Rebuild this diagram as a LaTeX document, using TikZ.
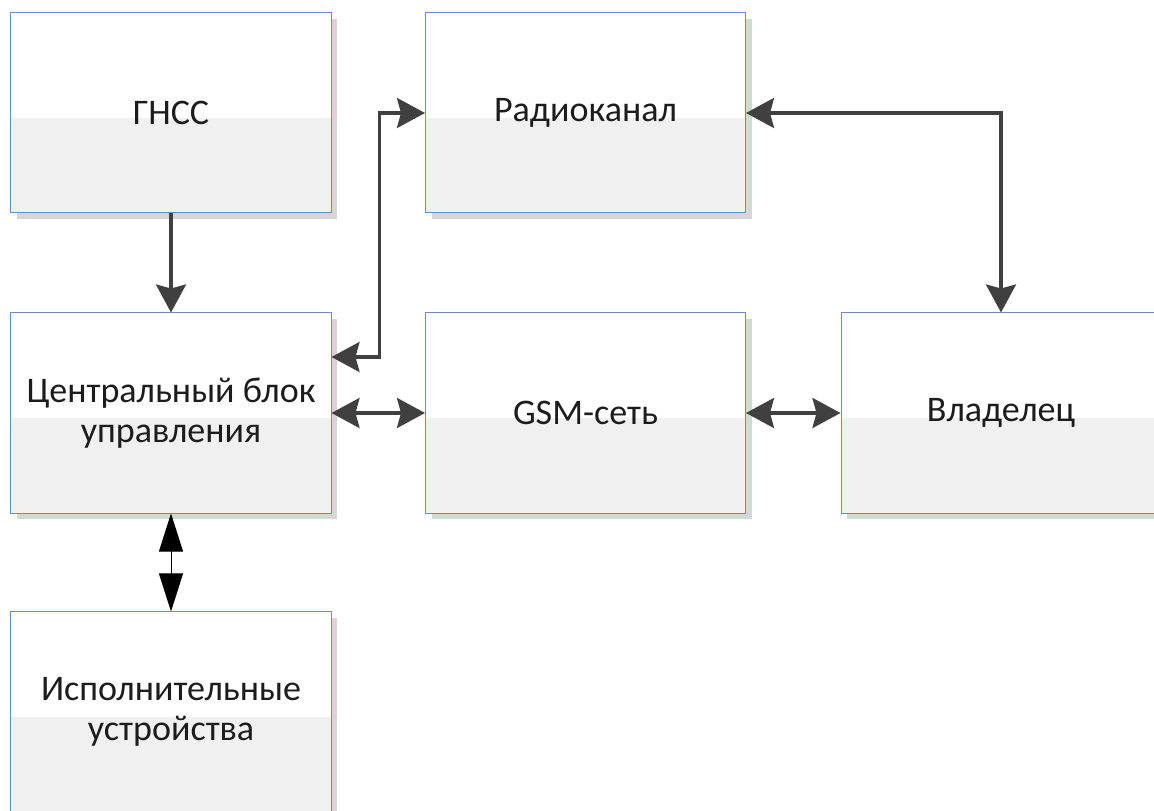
\documentclass[tikz,border=0pt]{standalone}
\usepackage{fontspec}
\setmainfont{Carlito}
\usetikzlibrary{arrows.meta,shadows}

\definecolor{boxblue}{RGB}{110,140,195}
\definecolor{boxgrey}{RGB}{240,240,240}
\definecolor{linkgrey}{RGB}{64,64,64}
\definecolor{textblack}{RGB}{28,28,28}

\begin{document}
\begin{tikzpicture}[
    x=0.2mm, y=-0.2mm,
    box/.style={rectangle, draw=boxblue, line width=0.2mm, fill=white,
        minimum width=64mm, minimum height=40mm, align=center,
        text=textblack, font=\fontsize{20.5}{22.8}\selectfont,
        drop shadow={shadow xshift=1.2mm, shadow yshift=-1.2mm, fill=black!16, opacity=1},
        path picture={\fill[boxgrey] ([yshift=-1mm]path picture bounding box.west)
            rectangle (path picture bounding box.south east);}},
    tip/.style={Stealth[length=5.6mm, width=6mm, inset=0.8mm]},
    link/.style={{Stealth[length=5.6mm, width=6mm, inset=0.8mm]}-{Stealth[length=5.6mm, width=6mm, inset=0.8mm]},
        draw=linkgrey, line width=0.65mm},
    oneway/.style={draw=linkgrey, line width=0.65mm, -{Stealth[length=5.6mm, width=6mm, inset=0.8mm]}},
    busline/.style={{Triangle[length=7.6mm, width=4.8mm]}-{Triangle[length=7.6mm, width=4.8mm]},
        draw=black, line width=0.2mm}
]
\useasboundingbox (0,0) rectangle (1154,811);

% Blocks
\node[box] (gnss) at (171,113) {ГНСС};
\node[box] (radio) at (585.5,113) {Радиоканал};
\node[box] (cbu) at (171,413) {Центральный блок\\управления};
\node[box] (gsm) at (585.5,413) {GSM-сеть};
\node[box] (owner) at (1001,413) {Владелец};
\node[box] (exec) at (171,712) {Исполнительные\\устройства};

% Connections
\draw[oneway] (gnss) -- (cbu);
\draw[link] ([yshift=11.2mm]cbu.east) -- ++(48,0) |- (radio.west);
\draw[link] (radio.east) -| (owner.north);
\draw[link] (cbu.east) -- (gsm.west);
\draw[link] (gsm.east) -- (owner.west);
\draw[busline] (cbu.south) -- (exec.north);

\end{tikzpicture}
\end{document}
